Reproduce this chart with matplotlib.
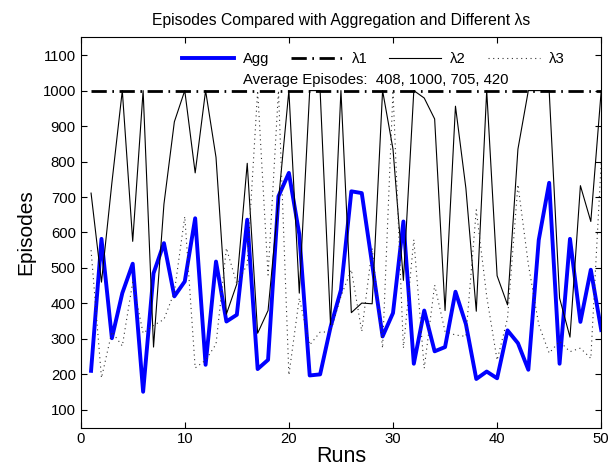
import matplotlib
matplotlib.use('Agg')
import matplotlib.pyplot as plt
import numpy as np

plt.rcParams['font.family'] = ['Liberation Sans', 'DejaVu Sans']

# Data
runs = np.arange(1, 51)
agg = [210, 582, 302, 429, 512, 151, 485, 570, 420, 462,
       640, 227, 518, 349, 368, 636, 215, 241, 702, 768,
       595, 197, 200, 333, 438, 716, 711, 510, 307, 373,
       631, 230, 380, 265, 277, 433, 342, 187, 208, 189,
       324, 288, 213, 579, 740, 230, 582, 348, 495, 325]
lam1 = [1000] * 50
lam2 = [711, 460, 740, 1000, 575, 1000, 277, 680, 912, 1000,
        768, 1000, 812, 370, 455, 795, 316, 380, 690, 1000,
        429, 1000, 1000, 340, 1000, 374, 401, 399, 1000, 835,
        465, 1000, 979, 920, 380, 956, 725, 378, 1000, 478,
        396, 835, 1000, 1000, 1000, 415, 305, 732, 631, 1000]
lam3 = [550, 190, 320, 280, 460, 316, 338, 355, 432, 645,
        218, 240, 285, 556, 455, 510, 1000, 480, 1000, 198,
        415, 283, 319, 320, 420, 495, 321, 556, 274, 1000,
        274, 580, 217, 452, 321, 311, 307, 664, 420, 240,
        358, 735, 510, 340, 260, 293, 264, 274, 245, 800]
series_labels = ['Agg', '\u03bb1', '\u03bb2', '\u03bb3']
avg_text = 'Average Episodes:  408, 1000, 705, 420'

fig = plt.figure(figsize=(6.11, 4.73), dpi=100)
ax = fig.add_axes([0.132, 0.096, 0.852, 0.825])

ax.plot(runs, agg, color='#0000ff', linewidth=2.8, label=series_labels[0])
ax.plot(runs, lam1, color='black', linewidth=2.0,
        linestyle=(0, (5.5, 2, 0.6, 2)), label=series_labels[1])
ax.plot(runs, lam2, color='black', linewidth=0.8, label=series_labels[2])
ax.plot(runs, lam3, color='0.2', linewidth=0.8,
        linestyle=(0, (1, 3.2)), label=series_labels[3])

ax.set_xlim(0, 50)
ax.set_ylim(50, 1150)
ax.set_xticks(np.arange(0, 51, 10))
ax.set_yticks(np.arange(100, 1101, 100))
ax.tick_params(direction='in', top=True, right=True, labelsize=10.7, length=4)

ax.set_title('Episodes Compared with Aggregation and Different \u03bbs', fontsize=11.3, pad=9)
ax.set_xlabel('Runs', fontsize=15.5, labelpad=0)
ax.set_ylabel('Episodes', fontsize=15, labelpad=5)

ax.legend(loc='upper center', bbox_to_anchor=(0.562, 0.997), ncol=4, frameon=False,
          fontsize=10.7, handlelength=3.5, handletextpad=0.6, columnspacing=1.45)
ax.text(0.567, 0.89, avg_text, transform=ax.transAxes, ha='center', va='center', fontsize=10.7)

fig.savefig('out.png', dpi=100)
